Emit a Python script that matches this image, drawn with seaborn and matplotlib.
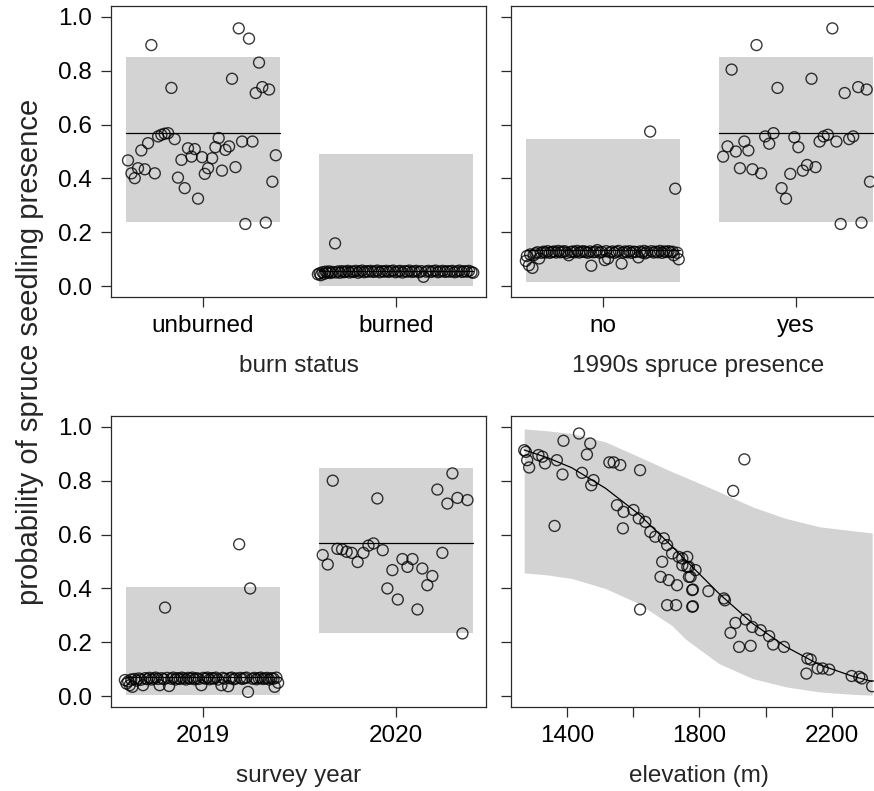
import numpy as np
import pandas as pd
import matplotlib
matplotlib.use("Agg")
import matplotlib.pyplot as plt
import seaborn as sns

# ---------------- data ----------------
burn_levels = ["unburned", "burned"]
burn_fit = [0.568, 0.056]
burn_lo = [0.237, 0.000]
burn_hi = [0.851, 0.491]
unb_off = [-0.268,-0.389,-0.371,-0.354,-0.337,-0.320,-0.302,-0.285,-0.250,-0.233,
           -0.216,-0.199,-0.181,-0.164,-0.147,-0.130,-0.112,-0.095,-0.078,-0.060,
           -0.043,-0.026,-0.005,0.009,0.026,0.047,0.064,0.081,0.098,0.116,
           0.135,0.150,0.168,0.185,0.202,0.219,0.238,0.256,0.273,0.290,
           0.307,0.325,0.342,0.359,0.377]
unb_val = [0.895,0.467,0.419,0.401,0.438,0.504,0.434,0.531,0.419,0.556,
           0.562,0.566,0.568,0.736,0.546,0.403,0.469,0.364,0.512,0.481,
           0.509,0.325,0.479,0.417,0.438,0.475,0.516,0.550,0.429,0.506,
           0.519,0.770,0.442,0.957,0.537,0.231,0.919,0.537,0.717,0.830,
           0.739,0.236,0.730,0.388,0.486]
brn_off = [-0.405,-0.396,-0.390,-0.381,-0.372,-0.365,-0.356,-0.347,-0.339,-0.330,
           -0.316,-0.312,-0.300,-0.291,-0.281,-0.270,-0.262,-0.250,-0.241,-0.229,
           -0.220,-0.208,-0.197,-0.188,-0.176,-0.165,-0.154,-0.144,-0.131,-0.120,
           -0.108,-0.097,-0.086,-0.073,-0.062,-0.050,-0.039,-0.027,-0.015,-0.003,
           0.010,0.021,0.033,0.046,0.058,0.069,0.082,0.094,0.106,0.119,
           0.131,0.142,0.155,0.167,0.180,0.192,0.205,0.217,0.229,0.242,
           0.254,0.266,0.279,0.291,0.304,0.316,0.328,0.341,0.353,0.366,
           0.378,0.391,0.400]
brn_val = [0.044,0.048,0.041,0.052,0.046,0.054,0.050,0.055,0.049,0.053,
           0.159,0.051,0.055,0.050,0.056,0.052,0.054,0.057,0.051,0.055,
           0.053,0.057,0.050,0.055,0.058,0.052,0.056,0.054,0.057,0.053,
           0.055,0.058,0.052,0.056,0.054,0.057,0.053,0.056,0.058,0.052,
           0.055,0.057,0.051,0.056,0.054,0.058,0.053,0.055,0.057,0.052,
           0.056,0.035,0.054,0.057,0.053,0.056,0.058,0.052,0.055,0.057,
           0.053,0.056,0.054,0.057,0.052,0.055,0.058,0.053,0.056,0.054,
           0.057,0.052,0.050]

spruce_levels = ["no", "yes"]
spruce_fit = [0.134, 0.568]
spruce_lo = [0.016, 0.237]
spruce_hi = [0.547, 0.851]
no_off = [-0.400,-0.395,-0.384,-0.378,-0.366,-0.360,-0.350,-0.340,-0.331,-0.320,
          -0.309,-0.298,-0.287,-0.276,-0.265,-0.254,-0.243,-0.232,-0.221,-0.210,
          -0.199,-0.188,-0.178,-0.167,-0.156,-0.145,-0.134,-0.123,-0.112,-0.101,
          -0.090,-0.079,-0.068,-0.061,-0.050,-0.039,-0.030,-0.018,-0.007,0.009,
          0.016,0.026,0.037,0.048,0.059,0.070,0.081,0.096,0.103,0.114,
          0.125,0.136,0.147,0.158,0.169,0.183,0.191,0.202,0.213,0.218,
          0.229,0.244,0.251,0.262,0.273,0.284,0.295,0.306,0.317,0.328,
          0.339,0.350,0.361,0.366,0.374,0.385,0.392]
no_val = [0.094,0.112,0.078,0.118,0.068,0.115,0.122,0.126,0.103,0.124,
          0.128,0.125,0.130,0.124,0.127,0.129,0.125,0.131,0.126,0.128,
          0.130,0.124,0.115,0.127,0.129,0.126,0.131,0.125,0.128,0.130,
          0.127,0.124,0.129,0.076,0.126,0.128,0.134,0.125,0.127,0.097,
          0.130,0.103,0.126,0.129,0.124,0.128,0.131,0.084,0.125,0.129,
          0.126,0.130,0.124,0.128,0.127,0.107,0.129,0.125,0.131,0.122,
          0.127,0.574,0.130,0.125,0.128,0.126,0.131,0.124,0.129,0.127,
          0.130,0.126,0.128,0.115,0.362,0.124,0.100]
yes_off = [-0.378,-0.355,-0.334,-0.312,-0.291,-0.268,-0.247,-0.226,-0.205,-0.181,
           -0.160,-0.139,-0.117,-0.096,-0.075,-0.052,-0.030,-0.009,0.012,0.035,
           0.057,0.080,0.101,0.122,0.143,0.165,0.188,0.209,0.231,0.252,
           0.275,0.296,0.322,0.339,0.366,0.383]
yes_val = [0.481,0.519,0.804,0.500,0.438,0.537,0.504,0.434,0.895,0.419,
           0.556,0.529,0.568,0.736,0.364,0.325,0.417,0.553,0.516,0.429,
           0.450,0.770,0.442,0.537,0.556,0.562,0.957,0.537,0.231,0.717,
           0.546,0.556,0.739,0.236,0.730,0.388]

year_levels = ["2019", "2020"]
year_fit = [0.072, 0.569]
year_lo = [0.004, 0.236]
year_hi = [0.406, 0.847]
y19_off = [-0.405,-0.397,-0.388,-0.380,-0.372,-0.366,-0.355,-0.344,-0.333,-0.322,
           -0.311,-0.300,-0.289,-0.278,-0.267,-0.256,-0.245,-0.234,-0.225,-0.214,
           -0.203,-0.197,-0.186,-0.176,-0.165,-0.154,-0.143,-0.132,-0.121,-0.110,
           -0.099,-0.088,-0.077,-0.066,-0.055,-0.044,-0.033,-0.022,-0.009,0.001,
           0.012,0.023,0.034,0.045,0.056,0.067,0.078,0.095,0.102,0.113,
           0.130,0.137,0.148,0.159,0.170,0.187,0.192,0.203,0.214,0.225,
           0.233,0.244,0.255,0.266,0.277,0.288,0.299,0.310,0.321,0.332,
           0.343,0.354,0.365,0.371,0.380,0.389]
y19_val = [0.060,0.047,0.055,0.041,0.062,0.035,0.064,0.058,0.066,0.061,
           0.041,0.067,0.063,0.068,0.062,0.066,0.069,0.064,0.041,0.067,
           0.063,0.329,0.068,0.038,0.065,0.069,0.062,0.067,0.064,0.069,
           0.066,0.062,0.068,0.065,0.069,0.063,0.067,0.064,0.041,0.068,
           0.065,0.069,0.063,0.067,0.066,0.069,0.062,0.041,0.068,0.065,
           0.037,0.067,0.069,0.063,0.066,0.564,0.068,0.064,0.067,0.069,
           0.016,0.400,0.065,0.068,0.063,0.067,0.069,0.064,0.066,0.068,
           0.062,0.067,0.065,0.035,0.069,0.050]
y20_off = [-0.380,-0.354,-0.328,-0.304,-0.280,-0.256,-0.230,-0.199,-0.169,-0.143,
           -0.117,-0.097,-0.069,-0.045,-0.019,0.009,0.033,0.059,0.085,0.111,
           0.136,0.162,0.188,0.214,0.240,0.266,0.292,0.318,0.344,0.370]
y20_val = [0.524,0.489,0.800,0.547,0.545,0.536,0.532,0.498,0.532,0.559,
           0.567,0.734,0.542,0.400,0.468,0.359,0.509,0.480,0.509,0.322,
           0.474,0.412,0.446,0.767,0.532,0.715,0.827,0.736,0.233,0.728]

elev_pts = [1269,1274,1278,1284,1312,1324,1332,1368,1388,1385,
            1361,1435,1469,1459,1444,1479,1472,1527,1540,1560,
            1620,1550,1570,1568,1600,1616,1636,1651,1666,1692,
            1702,1687,1682,1707,1717,1732,1737,1748,1748,1763,
            1768,1702,1729,1620,1778,1778,1763,1768,1773,1788,
            1780,1780,1827,1874,1877,1936,1902,1909,1894,1940,
            1960,1985,2011,2023,1920,1955,2056,2127,2137,2124,
            2158,2173,2193,2261,2284,2292,2323]
elev_val = [0.913,0.907,0.876,0.849,0.895,0.889,0.864,0.876,0.948,0.823,
            0.632,0.975,0.938,0.897,0.829,0.802,0.783,0.868,0.868,0.858,
            0.839,0.709,0.684,0.623,0.691,0.660,0.647,0.610,0.592,0.586,
            0.561,0.499,0.443,0.431,0.530,0.412,0.517,0.511,0.486,0.480,
            0.443,0.338,0.338,0.322,0.394,0.332,0.517,0.480,0.443,0.468,
            0.396,0.334,0.390,0.363,0.356,0.879,0.762,0.272,0.235,0.285,
            0.257,0.245,0.223,0.192,0.183,0.187,0.183,0.140,0.136,0.084,
            0.103,0.103,0.099,0.075,0.072,0.066,0.037]
curve_elev = [1269,1340,1413,1515,1616,1717,1758,1859,1960,2061,2163,2264,2323]
curve_fit = [0.914,0.885,0.848,0.772,0.676,0.556,0.505,0.381,0.271,0.184,0.117,0.074,0.055]
curve_hi = [0.992,0.985,0.975,0.944,0.889,0.833,0.812,0.759,0.703,0.660,0.629,0.614,0.606]
curve_lo = [0.458,0.450,0.437,0.400,0.344,0.262,0.212,0.121,0.066,0.035,0.016,0.007,0.004]
elev_ticks = [1400, 1600, 1800, 2000, 2200]
elev_ticklabels = ["1400", "", "1800", "", "2200"]
y_ticks = [0.0, 0.2, 0.4, 0.6, 0.8, 1.0]

# ---------------- style ----------------
sns.set_theme(style="white")
plt.rcParams['font.family'] = ['Liberation Sans', 'DejaVu Sans']
FS = 17.5
BAND = "#D3D3D3"
EDGE = "#2a2a2a"
W, H = 874, 791
fig = plt.figure(figsize=(W / 100, H / 100), dpi=100)


def make_ax(x0, y_top, w=375, h=291):
    return fig.add_axes([x0 / W, (H - y_top - h) / H, w / W, h / H])


def style_ax(ax, show_ylab):
    ax.set_ylim(-0.04, 1.04)
    ax.set_yticks(y_ticks)
    if show_ylab:
        ax.set_yticklabels([f"{v:.1f}" for v in y_ticks])
    else:
        ax.set_yticklabels([])
    for sp in ax.spines.values():
        sp.set_color(EDGE)
        sp.set_linewidth(0.9)
    ax.tick_params(axis="both", which="both", direction="out", length=7,
                   width=0.9, color=EDGE, labelsize=FS,
                   labelcolor="black", bottom=True, left=True)
    ax.tick_params(axis="x", pad=6)
    ax.tick_params(axis="y", pad=7)
    ax.set_ylabel("")


def points(ax, x, y):
    df = pd.DataFrame({"x": x, "y": y})
    sns.scatterplot(data=df, x="x", y="y", ax=ax, s=62, marker="o",
                    facecolor="none", edgecolor="black", linewidth=1.0,
                    alpha=0.78, zorder=3, legend=False)


def cat_panel(ax, levels, fits, los, his, offs, vals, xlabel, show_ylab):
    hw = 0.4
    for i in range(len(levels)):
        ax.fill_between([i - hw, i + hw], [los[i]] * 2, [his[i]] * 2,
                        color=BAND, linewidth=0, zorder=1)
        ax.plot([i - hw, i + hw], [fits[i]] * 2, color="black", lw=0.9, zorder=2)
        points(ax, i + np.asarray(offs[i]), vals[i])
    ax.set_xlim(-0.477, 1.466)
    ax.set_xticks(range(len(levels)))
    ax.set_xticklabels(levels)
    style_ax(ax, show_ylab)
    ax.set_xlabel(xlabel, fontsize=FS, labelpad=13)


ax1 = make_ax(111, 6)
cat_panel(ax1, burn_levels, burn_fit, burn_lo, burn_hi,
          [unb_off, brn_off], [unb_val, brn_val], "burn status", True)

ax2 = make_ax(511, 6)
cat_panel(ax2, spruce_levels, spruce_fit, spruce_lo, spruce_hi,
          [no_off, yes_off], [no_val, yes_val], "1990s spruce presence", False)

ax3 = make_ax(111, 416)
cat_panel(ax3, year_levels, year_fit, year_lo, year_hi,
          [y19_off, y20_off], [y19_val, y20_val], "survey year", True)

ax4 = make_ax(511, 416)
ax4.fill_between(curve_elev, curve_lo, curve_hi, color=BAND, linewidth=0, zorder=1)
sns.lineplot(x=curve_elev, y=curve_fit, ax=ax4, color="black", lw=0.9, zorder=2)
points(ax4, elev_pts, elev_val)
ax4.set_xlim(1229, 2365)
ax4.set_xticks(elev_ticks)
ax4.set_xticklabels(elev_ticklabels)
style_ax(ax4, False)
ax4.set_xlabel("elevation (m)", fontsize=FS, labelpad=13)

fig.text(30 / W, (H - 352) / H, "probability of spruce seedling presence",
         rotation=90, ha="center", va="center", fontsize=21)

fig.savefig("out.png", dpi=100)
